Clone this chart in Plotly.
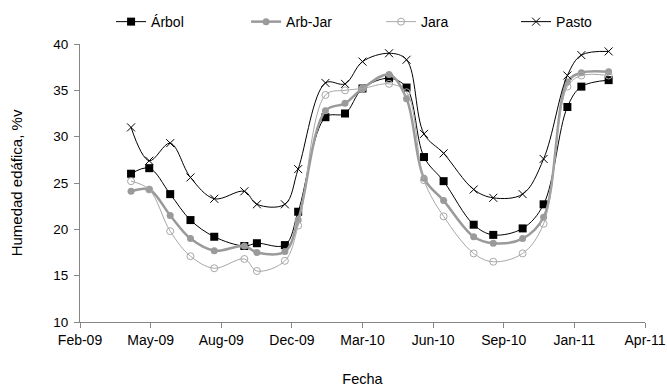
import plotly.graph_objects as go

fechas = ["2009-04-15", "2009-05-11", "2009-06-10", "2009-07-09", "2009-08-12",
          "2009-09-24", "2009-10-12", "2009-11-21", "2009-12-10",
          "2010-01-18", "2010-02-15", "2010-03-12", "2010-04-19", "2010-05-14",
          "2010-06-08", "2010-07-06", "2010-08-18", "2010-09-15", "2010-10-27",
          "2010-11-26", "2010-12-30", "2011-01-19", "2011-02-27"]

arbol = [26.0, 26.6, 23.8, 21.0, 19.2, 18.2, 18.5, 18.3, 21.9,
         32.1, 32.5, 35.2, 36.3, 35.3,
         27.8, 25.2, 20.5, 19.4, 20.1, 22.7,
         33.2, 35.4, 36.1]
arb_jar = [24.1, 24.3, 21.5, 19.0, 17.7, 18.2, 17.5, 17.6, 21.0,
           32.8, 33.6, 35.2, 36.7, 34.1,
           25.5, 23.1, 19.2, 18.5, 19.0, 21.3,
           35.9, 36.9, 37.0]
jara = [25.2, 24.3, 19.8, 17.1, 15.8, 16.8, 15.5, 16.6, 20.4,
        34.5, 35.0, 35.2, 35.7, 34.8,
        25.3, 21.4, 17.4, 16.5, 17.4, 20.6,
        35.4, 36.6, 36.6]
pasto = [31.0, 27.4, 29.3, 25.6, 23.3, 24.1, 22.7, 22.7, 26.5,
         35.8, 35.7, 38.1, 39.0, 38.3,
         30.3, 28.2, 24.3, 23.4, 23.8, 27.6,
         36.6, 38.8, 39.2]

tick_fechas = ["2009-02-01", "2009-05-13", "2009-08-22", "2009-12-01", "2010-03-12",
               "2010-06-21", "2010-09-30", "2011-01-09", "2011-04-20"]
tick_labels = ["Feb-09", "May-09", "Aug-09", "Dec-09", "Mar-10",
               "Jun-10", "Sep-10", "Jan-11", "Apr-11"]

FONT = "Liberation Sans, Arial, sans-serif"
AX = "#868686"

fig = go.Figure()
fig.add_trace(go.Scatter(
    x=fechas, y=arbol, name="Árbol", mode="lines+markers",
    line=dict(color="black", width=1, shape="spline", smoothing=1.0),
    marker=dict(symbol="square", size=8, color="black")))
fig.add_trace(go.Scatter(
    x=fechas, y=arb_jar, name="Arb-Jar", mode="lines+markers",
    line=dict(color="#9a9a9a", width=2.5, shape="spline", smoothing=1.0),
    marker=dict(symbol="circle", size=7, color="#9a9a9a")))
fig.add_trace(go.Scatter(
    x=fechas, y=jara, name="Jara", mode="lines+markers",
    line=dict(color="#a8a8a8", width=1, shape="spline", smoothing=1.0),
    marker=dict(symbol="circle-open", size=7, color="#a8a8a8", line=dict(width=1))))
fig.add_trace(go.Scatter(
    x=fechas, y=pasto, name="Pasto", mode="lines+markers",
    line=dict(color="black", width=1, shape="spline", smoothing=1.0),
    marker=dict(symbol="x-thin", size=8, color="black", line=dict(width=1, color="black"))))

fig.update_layout(
    width=667, height=387,
    margin=dict(l=80, r=22, t=44, b=65, autoexpand=False),
    paper_bgcolor="white", plot_bgcolor="white",
    font=dict(family=FONT, size=14, color="black"),
    showlegend=True,
    legend=dict(orientation="h", x=0.055, y=1.079, xanchor="left", yanchor="middle",
                entrywidth=90, entrywidthmode="pixels",
                font=dict(size=14), bgcolor="rgba(0,0,0,0)", borderwidth=0),
    xaxis=dict(
        type="date", range=[tick_fechas[0], tick_fechas[-1]], automargin=False,
        tickmode="array", tickvals=tick_fechas, ticktext=tick_labels,
        showgrid=False, zeroline=False, showline=True, linecolor=AX, linewidth=1,
        ticks="outside", ticklen=5, tickcolor=AX,
        tickfont=dict(size=14),
        title=dict(text="Fecha", font=dict(size=14.5), standoff=27)),
    yaxis=dict(
        range=[10, 40], tickmode="array", tickvals=[10, 15, 20, 25, 30, 35, 40],
        automargin=False, ticklabelstandoff=3,
        showgrid=False, zeroline=False, showline=True, linecolor=AX, linewidth=1,
        ticks="outside", ticklen=5, tickcolor=AX,
        tickfont=dict(size=13.5),
        title=dict(text="Humedad edáfica, %v", font=dict(size=15), standoff=27)),
)

fig.write_html("out.html",
               config={"displayModeBar": False},
               post_script="document.body.style.margin='0px';document.body.style.overflow='hidden';")
